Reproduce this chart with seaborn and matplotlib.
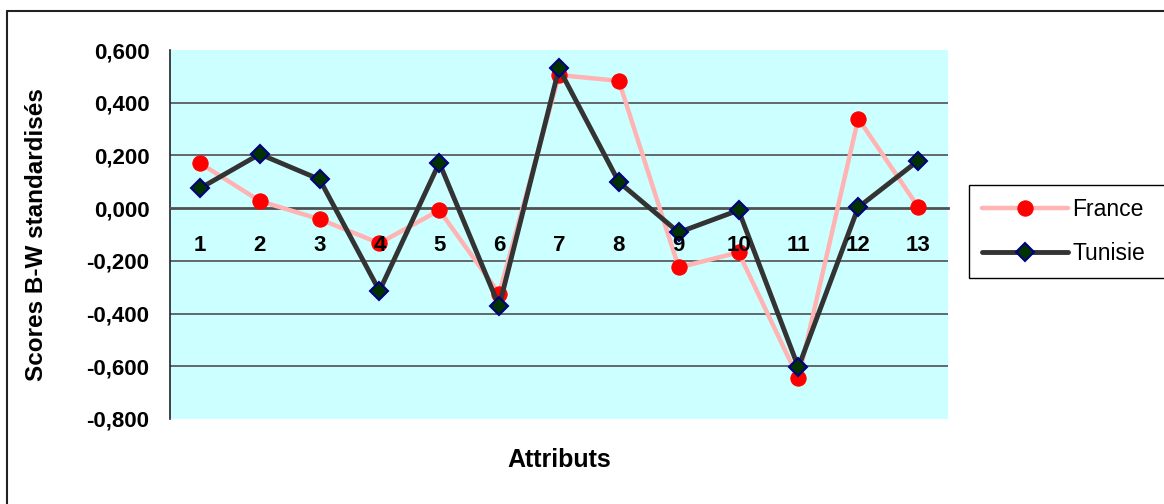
import numpy as np
import pandas as pd
import matplotlib
matplotlib.use("Agg")
import matplotlib.pyplot as plt
from matplotlib.lines import Line2D
from matplotlib.ticker import FixedLocator
import seaborn as sns

# Standardised Best-Worst scores per attribute
attributs = list(range(1, 14))
france = [0.171, 0.027, -0.042, -0.133, -0.008, -0.324, 0.505, 0.483,
          -0.225, -0.168, -0.646, 0.340, 0.005]
tunisie = [0.075, 0.205, 0.109, -0.314, 0.172, -0.372, 0.530, 0.099,
           -0.092, -0.008, -0.604, 0.003, 0.180]
pays = ["France", "Tunisie"]
y_ticks = [0.6, 0.4, 0.2, 0.0, -0.2, -0.4, -0.6, -0.8]
y_tick_labels = ["0,600", "0,400", "0,200", "0,000",
                 "-0,200", "-0,400", "-0,600", "-0,800"]

df = pd.DataFrame({
    "Attribut": attributs + attributs,
    "Score": france + tunisie,
    "Pays": [pays[0]] * len(france) + [pays[1]] * len(tunisie),
})

sns.set_style("white")
plt.rcParams["font.family"] = ["Liberation Sans", "DejaVu Sans"]
plt.rcParams.update({"text.color": "black", "axes.labelcolor": "black",
                     "xtick.color": "black", "ytick.color": "black"})

W, H = 1164, 504
fig = plt.figure(figsize=(W / 100, H / 100), dpi=100)
ax = fig.add_axes([170 / W, 1 - 419 / H, 778 / W, 369 / H])
ax.set_facecolor("#CCFFFF")

# interior horizontal gridlines
for yv in y_ticks[1:-1]:
    if yv != 0:
        ax.axhline(yv, color="#505050", lw=1.2, zorder=1)

sns.lineplot(data=df[df["Pays"] == pays[0]], x="Attribut", y="Score", ax=ax,
             estimator=None, errorbar=None, color="#FFB3B3", linewidth=3.2,
             marker="o", markersize=11, markerfacecolor="#FF0000",
             markeredgecolor="#FF0000", label=pays[0], zorder=3)
sns.lineplot(data=df[df["Pays"] == pays[1]], x="Attribut", y="Score", ax=ax,
             estimator=None, errorbar=None, color="#333333", linewidth=3.5,
             marker="D", markersize=9.5, markerfacecolor="#003300",
             markeredgecolor="#000080", markeredgewidth=1.5,
             label=pays[1], zorder=4)

ax.set_xlim(attributs[0] - 0.5, attributs[-1] + 0.5)
ax.set_ylim(y_ticks[-1], y_ticks[0])

for s in ("top", "right"):
    ax.spines[s].set_visible(False)
ax.spines["bottom"].set_position(("data", 0))
ax.spines["bottom"].set_color("#505050")
ax.spines["bottom"].set_linewidth(2)
ax.spines["left"].set_color("#222222")
ax.spines["left"].set_linewidth(1.2)

ax.set_xticks(attributs)
ax.set_xticklabels([str(a) for a in attributs], fontweight="bold", fontsize=16,
                   color="black")
boundaries = [a - 0.5 for a in attributs] + [attributs[-1] + 0.5]
ax.xaxis.set_minor_locator(FixedLocator(boundaries))
ax.tick_params(axis="x", which="major", length=0, pad=19)
ax.tick_params(axis="x", which="minor", length=4.5, width=1, color="#333333",
               direction="out")
ax.xaxis.set_zorder(6)

ax.set_yticks(y_ticks)
ax.set_yticklabels(y_tick_labels, fontweight="bold", fontsize=16, color="black")
ax.tick_params(axis="y", length=5.8, width=1, color="#222222", pad=9)

ax.set_xlabel("Attributs", fontsize=18, fontweight="bold", va="center",
              color="black")
ax.xaxis.set_label_coords(0.5, (419 - 460) / 369)
ax.set_ylabel("Scores B-W standardisés", fontsize=17.5, fontweight="bold",
              va="center", color="black")
ax.yaxis.set_label_coords((37 - 170) / 778, 0.5)

handles, labels = ax.get_legend_handles_labels()
ax.get_legend().remove()
leg = fig.legend(handles, labels, loc="upper left",
                 bbox_to_anchor=(969 / W, 1 - 277 / H, 210 / W, 92 / H),
                 bbox_transform=fig.transFigure, mode="expand",
                 fontsize=16.5, frameon=True, fancybox=False, framealpha=1,
                 edgecolor="black", borderpad=0.55, handlelength=3.75,
                 handletextpad=0.2, labelspacing=0.95, borderaxespad=0,
                 labelcolor="black")
leg.get_frame().set_linewidth(1.0)

# outer chart border
fig.add_artist(Line2D([7 / W, 1.01], [1 - 10.5 / H] * 2,
                      transform=fig.transFigure, color="#222222", lw=1.5))
fig.add_artist(Line2D([7 / W] * 2, [1 - 10.5 / H, -0.01],
                      transform=fig.transFigure, color="#222222", lw=1.5))

fig.savefig("out.png", dpi=100)
